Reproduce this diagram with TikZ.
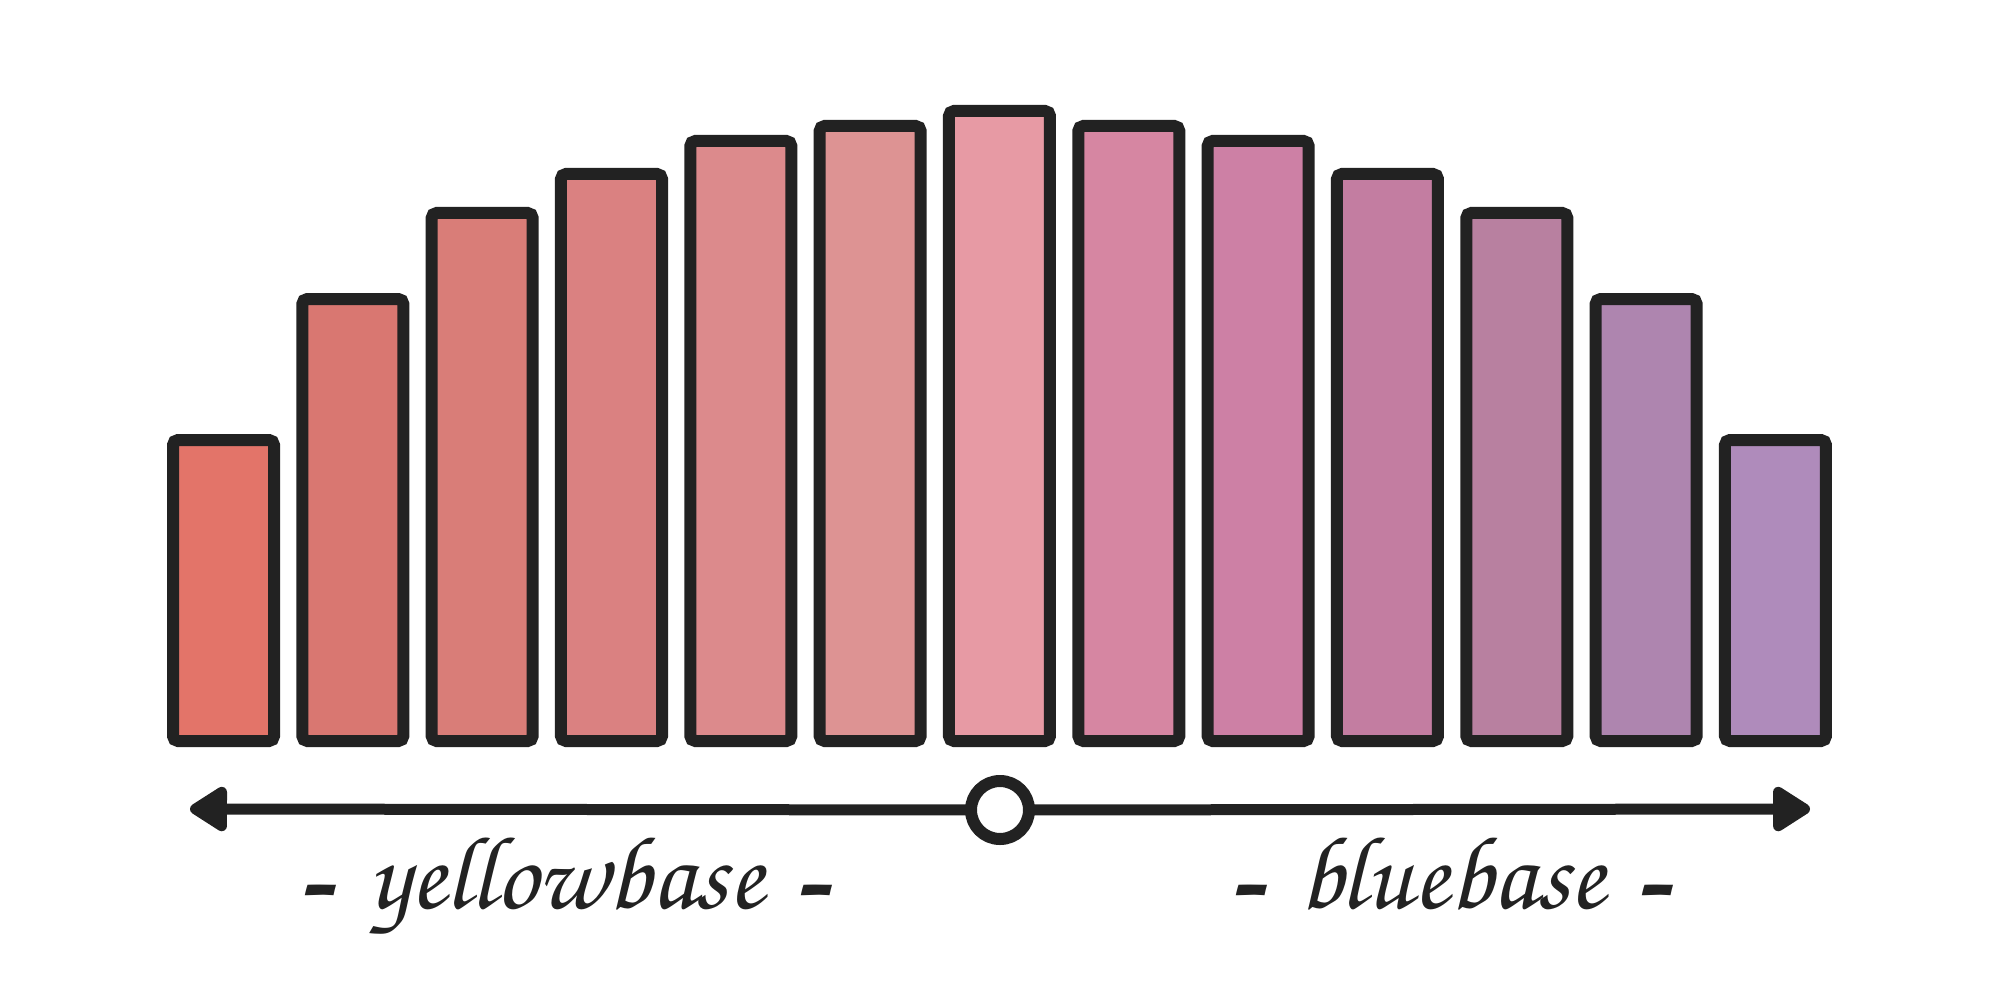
\documentclass[tikz,border=0pt]{standalone}
\usepackage[T1,TU]{fontenc}
\usepackage{graphicx}
\usepackage{tikz}
\usetikzlibrary{arrows.meta}

\definecolor{ink}{HTML}{222222}
\definecolor{bar1}{HTML}{E37469}
\definecolor{bar2}{HTML}{D97771}
\definecolor{bar3}{HTML}{D97D78}
\definecolor{bar4}{HTML}{DA8181}
\definecolor{bar5}{HTML}{DC8A8C}
\definecolor{bar6}{HTML}{DD9393}
\definecolor{bar7}{HTML}{E79AA4}
\definecolor{bar8}{HTML}{D686A2}
\definecolor{bar9}{HTML}{CD80A5}
\definecolor{bar10}{HTML}{C37DA1}
\definecolor{bar11}{HTML}{B880A0}
\definecolor{bar12}{HTML}{AE85AF}
\definecolor{bar13}{HTML}{AF8BBB}

\newcommand{\handfont}{\fontencoding{T1}\fontfamily{pzc}\fontseries{mb}\fontshape{it}\fontsize{52}{56}\selectfont}
\newcommand{\sidedash}{\raisebox{-8pt}{\scalebox{0.55}[1.6]{--}}}

\begin{document}
\begin{tikzpicture}[x=0.5pt,y=-0.5pt]
			\tikzset{bar/.style={draw=ink,line width=6pt,rounded corners=2.5pt,inner sep=0pt,outer sep=0pt,anchor=south,minimum width=50.5pt}}
			\tikzset{axis/.style={draw=ink,line width=5.5pt}}
			\tikzset{knob/.style={circle,draw=ink,fill=white,line width=6pt,minimum size=29pt,inner sep=0pt,outer sep=0pt}}
			\tikzset{side/.style={text=ink,font=\handfont,anchor=base}}
			\useasboundingbox (0,0) rectangle (2000,1000);
			\foreach \i/\h in {1/301,2/442,3/528,4/567,5/600,6/615,7/630,8/615,9/600,10/567,11/528,12/442,13/301}
				\node[bar,fill=bar\i,minimum height=\h*0.5pt] (bar\i) at ({223.5+129.33*(\i-1)},741) {};
			\node[knob] (knob) at (1000,810) {};
			\coordinate (lend) at (190,809);
			\coordinate (rend) at (1810,809);
			\draw[axis,-{Triangle[length=21pt,width=25pt,round]}] (knob) -- (lend);
			\draw[axis,-{Triangle[length=21pt,width=25pt,round]}] (knob) -- (rend);
			\node[side] (yellow) at (566,908) {\sidedash\hspace{18pt}yellowbase\hspace{18pt}\sidedash};
			\node[side] (blue) at (1452,908) {\sidedash\hspace{18pt}bluebase\hspace{18pt}\sidedash};
		\end{tikzpicture}
\end{document}
